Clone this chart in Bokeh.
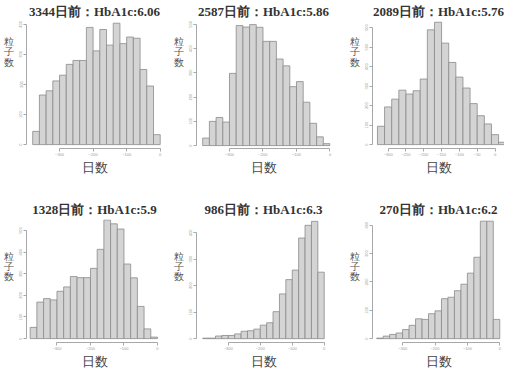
from bokeh.plotting import figure
from bokeh.layouts import gridplot
from bokeh.models import FixedTicker, Range1d
from bokeh.embed import file_html
from bokeh.resources import INLINE

# ---------------- data ----------------
titles = ["3344日前：HbA1c:6.06", "2587日前：HbA1c:5.86", "2089日前：HbA1c:5.76",
          "1328日前：HbA1c:5.9", "986日前：HbA1c:6.3", "270日前：HbA1c:6.2"]
bin_width = 20
bin_starts = [-380, -380, -330, -380, -380, -380]

counts_3344 = [44, 165, 179, 212, 231, 267, 280, 280, 390, 312, 383, 331, 404, 336, 358, 354, 250, 195, 33]
counts_2587 = [31, 100, 116, 97, 298, 495, 489, 499, 488, 430, 430, 357, 329, 243, 264, 179, 92, 36, 8]
counts_2089 = [94, 193, 233, 279, 259, 276, 336, 588, 627, 520, 421, 346, 290, 210, 148, 106, 51, 12]
counts_1328 = [52, 169, 185, 179, 219, 239, 287, 282, 282, 325, 413, 549, 531, 507, 345, 281, 149, 45, 7]
counts_986 = [2, 2, 10, 12, 12, 18, 28, 30, 36, 51, 60, 102, 169, 223, 259, 380, 428, 443, 251]
counts_270 = [2, 9, 15, 20, 32, 47, 70, 68, 88, 98, 141, 146, 169, 192, 231, 287, 414, 414, 68]
all_counts = [counts_3344, counts_2587, counts_2089, counts_1328, counts_986, counts_270]

x_ticks_a = [-300, -200, -100, 0]
x_ticks_b = [-300, -250, -200, -150, -100, -50, 0]
x_ticks = [x_ticks_a, x_ticks_a, x_ticks_b, x_ticks_a, x_ticks_a, x_ticks_a]
y_ticks = [[0, 100, 200, 300, 400], [0, 100, 200, 300, 400, 500],
           [0, 100, 200, 300, 400, 500, 600], [0, 100, 200, 300, 400, 500],
           [0, 100, 200, 300, 400], [0, 100, 200, 300, 400]]
x_label = "日数"
y_label = "粒\n子\n数"

# ---------------- layout / styling ----------------
widths = [170, 176, 158]
border_left = [24, 24, 25]
border_right = [8, 16, 0]
row_heights = [185, 186]
border_top = [19, 34]
frame_heights = [129, 127]
title_standoff = [3, 6]
x_ranges = [(-398.5, 6.8), (-398.5, 1.5), (-343.9, 26.6),
            (-391.0, 15.0), (-399.4, 19.6), (-393.0, 14.6)]
y_ranges = [(-13, 413), (-12, 516), (-20, 636),
            (-18, 551), (-14.5, 450), (-13.5, 420)]
title_offset = [-1, -9, -6, -7, -4, 16]
ylab_pad_lines = [6, 9]      # empty lines that push the stacked y label down from the frame top
xlab_standoff = [1, 1]

BAR_FILL = "#d4d4d4"
BAR_LINE = "#8a8a8a"
AXIS = "#a8a8a8"

plots = []
for i in range(6):
    r, c = divmod(i, 3)
    h = row_heights[r]
    p = figure(width=widths[c], height=h, output_backend="svg", toolbar_location=None,
               x_range=Range1d(*x_ranges[i]), y_range=Range1d(*y_ranges[i]),
               min_border_left=border_left[c], min_border_right=border_right[c],
               min_border_top=border_top[r],
               min_border_bottom=h - border_top[r] - frame_heights[r],
               title=titles[i])
    p.title.align = "center"
    p.title.text_font = "Liberation Serif"
    p.title.text_font_size = "13px"
    p.title.text_font_style = "bold"
    p.title.text_color = "#333333"
    p.title.standoff = title_standoff[r]
    p.title.offset = title_offset[i]

    counts = all_counts[i]
    lefts = [bin_starts[i] + k * bin_width for k in range(len(counts))]
    rights = [l + bin_width for l in lefts]
    p.quad(left=lefts, right=rights, bottom=0, top=counts,
           fill_color=BAR_FILL, line_color=BAR_LINE, line_width=0.8)

    p.outline_line_color = None
    p.xgrid.visible = False
    p.ygrid.visible = False
    p.background_fill_color = "white"
    p.border_fill_color = "white"

    for ax, ticks in ((p.xaxis[0], x_ticks[i]), (p.yaxis[0], y_ticks[i])):
        ax.ticker = FixedTicker(ticks=ticks)
        ax.bounds = (ticks[0], ticks[-1])
        ax.axis_line_color = AXIS
        ax.major_tick_line_color = AXIS
        ax.major_tick_out = 3
        ax.major_tick_in = 0
        ax.minor_tick_line_color = None
        ax.major_label_text_font_size = "4px"
        ax.major_label_text_color = "#9a9a9a"
        ax.major_label_standoff = 1
    yax = p.yaxis[0]
    yax.major_label_orientation = "vertical"
    yax.axis_label = "\n" * ylab_pad_lines[r] + y_label
    yax.axis_label_orientation = "horizontal"
    yax.axis_label_align = "end"
    yax.axis_label_text_font = "Liberation Sans"
    yax.axis_label_text_font_size = "10px"
    yax.axis_label_text_font_style = "normal"
    yax.axis_label_text_color = "#555555"
    yax.axis_label_text_line_height = 0.95
    yax.axis_label_standoff = 3

    xax = p.xaxis[0]
    xax.axis_label = x_label
    xax.axis_label_text_font = "Liberation Sans"
    xax.axis_label_text_font_size = "13px"
    xax.axis_label_text_font_style = "normal"
    xax.axis_label_text_color = "#444444"
    xax.axis_label_standoff = xlab_standoff[r]
    plots.append(p)

grid = gridplot([plots[0:3], plots[3:6]], toolbar_location=None)
open("out.html", "w").write(file_html(grid, INLINE))
